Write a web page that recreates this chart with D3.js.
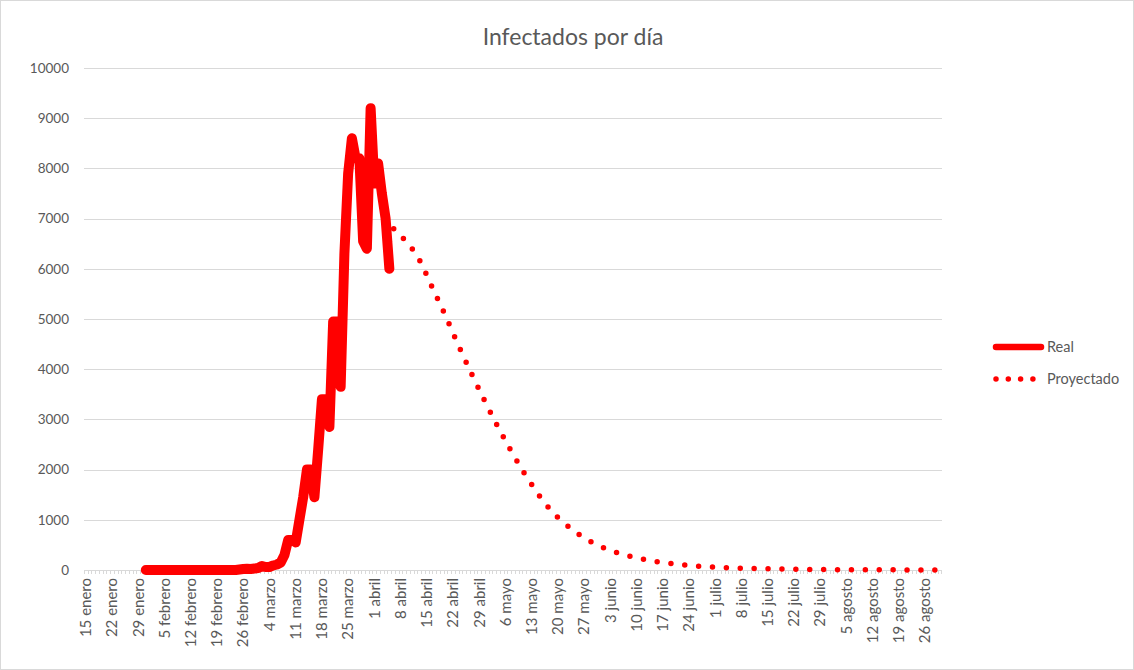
<!DOCTYPE html>
<html>
<head>
<meta charset="utf-8">
<script src="https://d3js.org/d3.v7.min.js"></script>
<style>
body { margin: 0; background: #fff; }
text { font-family: Lato, "Open Sans", sans-serif; fill: #595959; }
</style>
</head>
<body>
<svg width="1134" height="670"></svg>
<script>
// one category per day, 15 Jan to 30 Aug 2020
var firstDay = new Date(2020, 0, 15);
var lastDay = new Date(2020, 7, 30);

var weekLabels = ["15 enero", "22 enero", "29 enero", "5 febrero", "12 febrero", "19 febrero",
  "26 febrero", "4 marzo", "11 marzo", "18 marzo", "25 marzo", "1 abril", "8 abril",
  "15 abril", "22 abril", "29 abril", "6 mayo", "13 mayo", "20 mayo", "27 mayo",
  "3 junio", "10 junio", "17 junio", "24 junio", "1 julio", "8 julio", "15 julio",
  "22 julio", "29 julio", "5 agosto", "12 agosto", "19 agosto", "26 agosto"];

var yTicks = [0, 1000, 2000, 3000, 4000, 5000, 6000, 7000, 8000, 9000, 10000];

// Real: daily values from 31 Jan
var realStart = new Date(2020, 0, 31);
var realValues = [
  0, 0, 0, 0, 0, 0, 0, 0, 0, 0,          // 31 ene - 9 feb
  0, 0, 0, 0, 0, 0, 0, 0, 0, 0,          // 10 - 19 feb
  0, 0, 0, 0, 0, 10, 20, 25, 20, 30,     // 20 - 29 feb
  40, 80, 60, 60, 90, 110, 150, 300, 600, 600,   // 1 - 10 mar
  550, 1000, 1450, 2000, 2000, 1450, 2400, 3400, 3400, 2850, // 11 - 20 mar
  4950, 4950, 3650, 6300, 7900, 8600, 8200, 8200, 6550, 6400, // 21 - 30 mar
  9200, 7700, 8100, 7500, 7000, 6000      // 31 mar - 5 abr
];

// Proyectado
var projDates = ["2020-04-05", "2020-04-06", "2020-04-09", "2020-04-13", "2020-04-16",
  "2020-04-20", "2020-04-23", "2020-04-27", "2020-05-04", "2020-05-11", "2020-05-18",
  "2020-05-25", "2020-06-01", "2020-06-08", "2020-06-15", "2020-06-22", "2020-06-29",
  "2020-07-06", "2020-07-13", "2020-07-20", "2020-07-27", "2020-08-03", "2020-08-10",
  "2020-08-17", "2020-08-24", "2020-08-30"];
var projValues = [6550, 6800, 6580, 6180, 5700, 5060, 4550, 3900, 2850, 1930, 1200,
  740, 450, 280, 170, 105, 65, 40, 27, 17, 11, 7, 4, 3, 2, 1];

var svg = d3.select("svg");
var fmt = d3.timeFormat("%Y-%m-%d");
var parse = d3.timeParse("%Y-%m-%d");

var days = d3.timeDay.range(firstDay, d3.timeDay.offset(lastDay, 1));
var x = d3.scaleBand().domain(days.map(fmt)).range([84, 942]).paddingInner(0).paddingOuter(0);
var bw = x.bandwidth();
var y = d3.scaleLinear().domain([0, 10000]).range([570, 68]);

function cx(date) { return x(fmt(date)) + bw / 2; }

// chart border
svg.append("rect")
  .attr("x", 0.5).attr("y", 0.5).attr("width", 1133).attr("height", 669)
  .attr("fill", "none").attr("stroke", "#d9d9d9");

// gridlines
svg.append("g").selectAll("line").data(yTicks.slice(1)).enter().append("line")
  .attr("x1", 84).attr("x2", 942)
  .attr("y1", function(d) { return Math.round(y(d)) + 0.5; })
  .attr("y2", function(d) { return Math.round(y(d)) + 0.5; })
  .attr("stroke", "#d9d9d9").attr("stroke-width", 1);

// y axis labels
svg.append("g").selectAll("text").data(yTicks).enter().append("text")
  .attr("x", 69)
  .attr("y", function(d) { return y(d); })
  .attr("dy", "0.35em")
  .attr("text-anchor", "end")
  .style("font-size", "13.5px")
  .text(function(d) { return d; });

// x axis line + one tick per day at category edges
var xa = svg.append("g");
xa.append("line").attr("x1", 84).attr("x2", 942).attr("y1", 570.5).attr("y2", 570.5)
  .attr("stroke", "#d9d9d9");
xa.selectAll(".tk").data(days.concat([null])).enter().append("line")
  .attr("class", "tk")
  .attr("x1", function(d) { return d ? Math.round(x(fmt(d))) + 0.5 : 941.5; })
  .attr("x2", function(d) { return d ? Math.round(x(fmt(d))) + 0.5 : 941.5; })
  .attr("y1", 570).attr("y2", 574)
  .attr("stroke", "#d9d9d9");

// weekly labels
var weekDays = days.filter(function(d, i) { return i % 7 === 0; });
svg.append("g").attr("transform", "translate(0,570)")
  .call(d3.axisBottom(x).tickValues(weekDays.map(fmt)).tickSize(0)
    .tickFormat(function(d, i) { return weekLabels[i]; }))
  .call(function(g) { g.select(".domain").remove(); })
  .selectAll("text")
  .attr("transform", "rotate(-90)")
  .attr("text-anchor", "end")
  .attr("x", -8).attr("y", 0).attr("dy", "0.35em")
  .style("font-size", "15px")
  .style("font-family", "Lato, 'Open Sans', sans-serif")
  .attr("fill", "#595959");

// series
var realData = realValues.map(function(v, i) { return { date: d3.timeDay.offset(realStart, i), value: v }; });
var projData = projDates.map(function(d, i) { return { date: parse(d), value: projValues[i] }; });

svg.append("path").datum(projData)
  .attr("d", d3.line().curve(d3.curveMonotoneX)
    .x(function(d) { return cx(d.date); })
    .y(function(d) { return y(d.value); }))
  .attr("fill", "none").attr("stroke", "#ff0000").attr("stroke-width", 5.5)
  .attr("stroke-linecap", "round").attr("stroke-dasharray", "0 13.9");

svg.append("path").datum(realData)
  .attr("d", d3.line()
    .x(function(d) { return cx(d.date); })
    .y(function(d) { return y(d.value); }))
  .attr("fill", "none").attr("stroke", "#ff0000").attr("stroke-width", 10)
  .attr("stroke-linejoin", "round").attr("stroke-linecap", "round");

// title
svg.append("text")
  .attr("x", 573).attr("y", 45)
  .attr("text-anchor", "middle")
  .style("font-size", "23px")
  .text("Infectados por día");

// legend
var lg = svg.append("g");
lg.append("line").attr("x1", 996).attr("x2", 1041).attr("y1", 347).attr("y2", 347)
  .attr("stroke", "#ff0000").attr("stroke-width", 6.5).attr("stroke-linecap", "round");
lg.append("text").attr("x", 1047).attr("y", 347).attr("dy", "0.35em")
  .style("font-size", "14.5px").text("Real");
lg.append("line").attr("x1", 996).attr("x2", 1034).attr("y1", 379).attr("y2", 379)
  .attr("stroke", "#ff0000").attr("stroke-width", 5.5).attr("stroke-linecap", "round")
  .attr("stroke-dasharray", "0 12.3");
lg.append("text").attr("x", 1047).attr("y", 379).attr("dy", "0.35em")
  .style("font-size", "14.5px").text("Proyectado");
</script>
</body>
</html>
